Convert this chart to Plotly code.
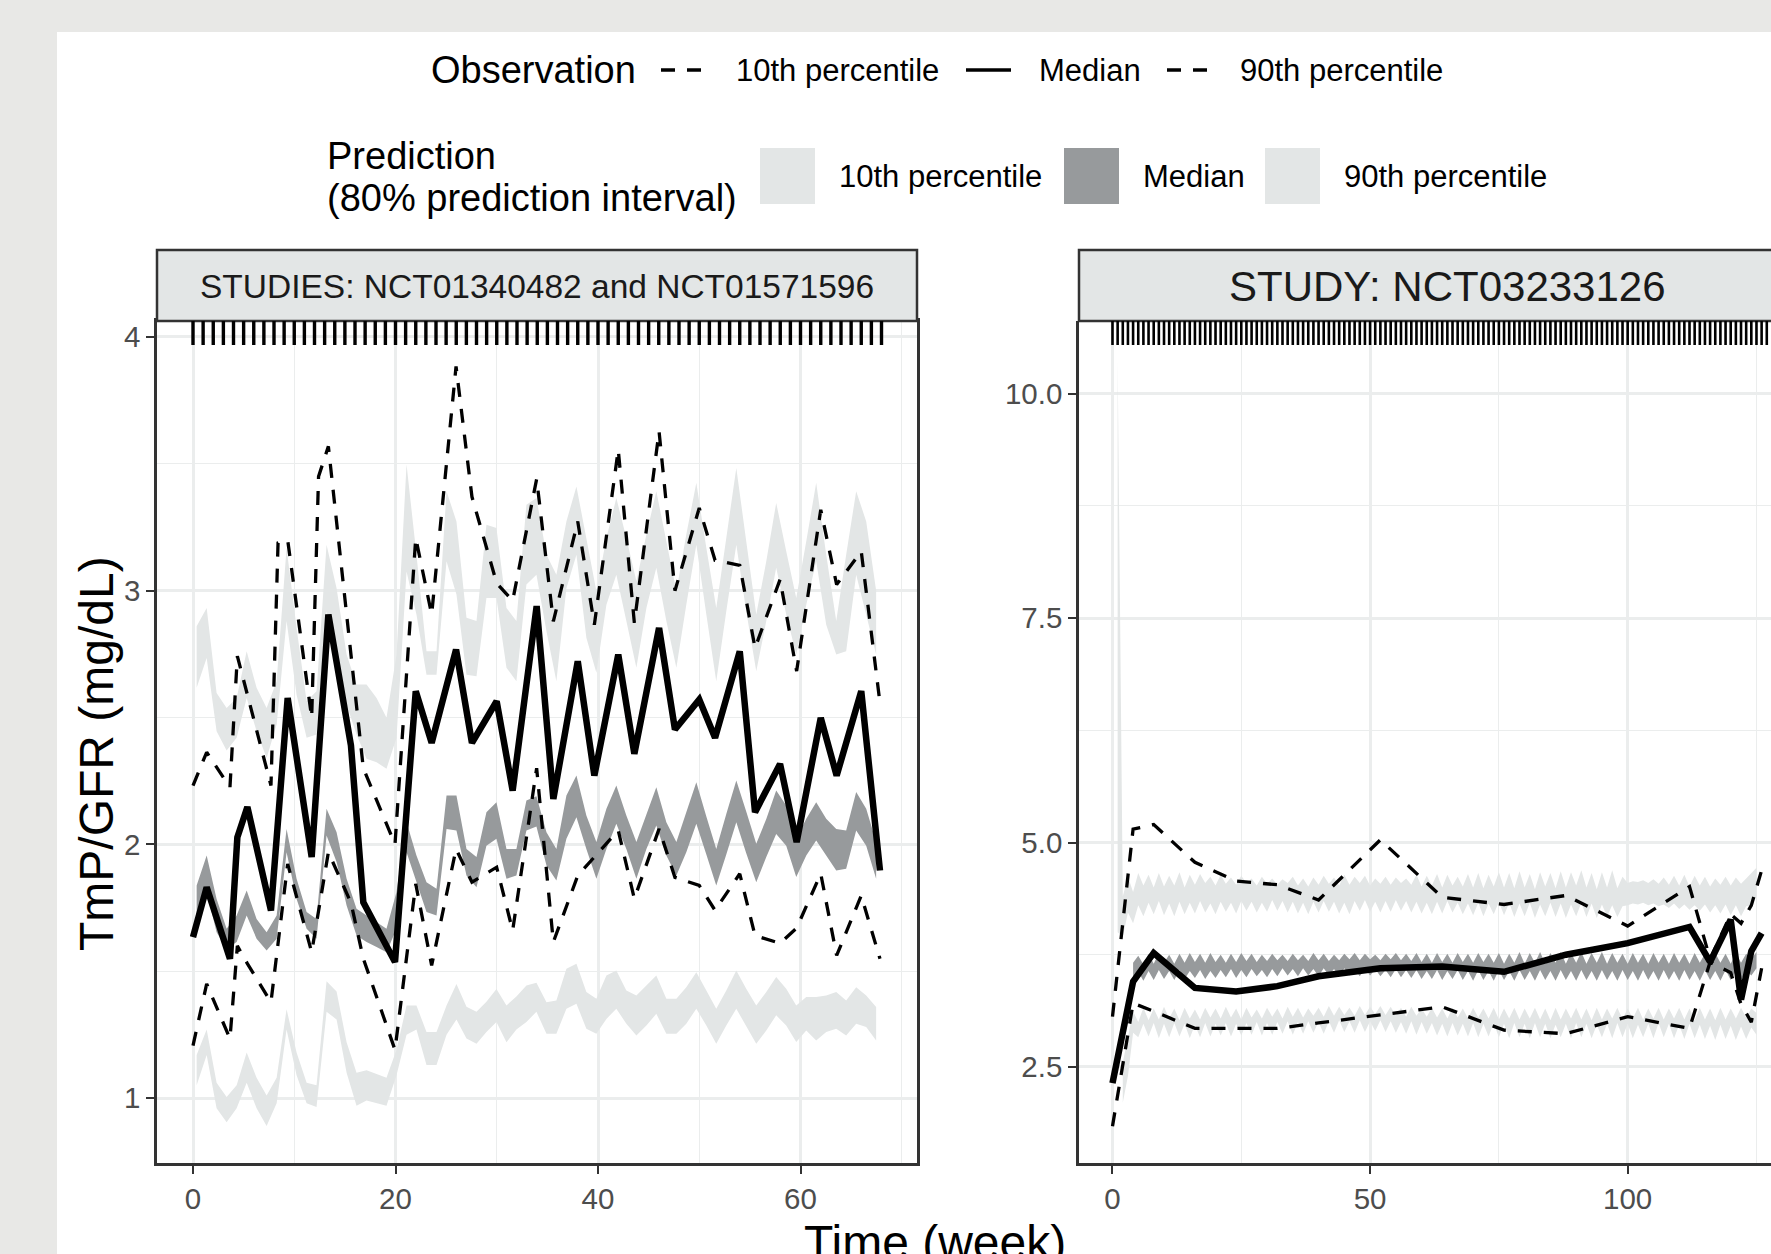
import plotly.graph_objects as go

W, H = 1771, 1254
FONT = "Liberation Sans, Arial, sans-serif"

# ---------------- LEFT PANEL DATA (STUDIES: NCT01340482 and NCT01571596) ----------------
rib_x_left = [0.36, 1.35, 2.33, 3.32, 4.31, 5.30, 6.28, 7.27, 8.26, 9.24, 10.23, 11.22, 12.20, 13.19,
              14.18, 15.17, 16.15, 17.14, 18.13, 19.11, 20.10, 21.09, 22.07, 23.06, 24.05, 25.04, 26.02,
              27.01, 28.00, 28.98, 29.97, 30.96, 31.94, 32.93, 33.92, 34.91, 35.89, 36.88, 37.87, 38.85,
              39.84, 40.83, 41.81, 42.80, 43.79, 44.78, 45.76, 46.75, 47.74, 48.72, 49.71, 50.70, 51.68,
              52.67, 53.66, 54.64, 55.63, 56.62, 57.60, 58.59, 59.58, 60.57, 61.55, 62.54, 63.53, 64.51,
              65.50, 66.49, 67.47]
p10_lo_left = [1.05, 1.17, 0.96, 0.905, 0.96, 1.06, 0.96, 0.89, 0.98, 1.27, 1.09, 0.98, 0.965, 1.34,
               1.31, 1.10, 0.97, 0.99, 0.98, 0.97, 1.09, 1.25, 1.27, 1.13, 1.13, 1.25, 1.31, 1.235, 1.214,
               1.26, 1.30, 1.22, 1.27, 1.30, 1.34, 1.253, 1.253, 1.352, 1.372, 1.273, 1.253, 1.312, 1.352,
               1.293, 1.247, 1.286, 1.332, 1.253, 1.253, 1.293, 1.352, 1.286, 1.214, 1.286, 1.352, 1.286,
               1.214, 1.266, 1.326, 1.286, 1.221, 1.266, 1.227, 1.260, 1.273, 1.247, 1.293, 1.280, 1.227]
p10_hi_left = [1.17, 1.27, 1.06, 1.004, 1.05, 1.18, 1.08, 1.01, 1.08, 1.35, 1.18, 1.06, 1.05, 1.46,
               1.42, 1.22, 1.10, 1.11, 1.095, 1.08, 1.19, 1.365, 1.365, 1.26, 1.26, 1.365, 1.45, 1.36, 1.34,
               1.38, 1.43, 1.365, 1.40, 1.444, 1.455, 1.378, 1.385, 1.510, 1.529, 1.418, 1.391, 1.483, 1.503,
               1.424, 1.404, 1.444, 1.483, 1.391, 1.391, 1.437, 1.496, 1.424, 1.352, 1.424, 1.503, 1.431,
               1.365, 1.418, 1.477, 1.431, 1.365, 1.398, 1.398, 1.404, 1.418, 1.385, 1.437, 1.404, 1.359]
p50_lo_left = [1.687, 1.812, 1.654, 1.588, 1.615, 1.72, 1.628, 1.582, 1.628, 1.969, 1.785, 1.667, 1.628,
               2.035, 1.93, 1.759, 1.641, 1.615, 1.595, 1.575, 1.667, 1.969, 1.851, 1.733, 1.72, 2.061,
               2.055, 1.877, 1.831, 1.995, 2.022, 1.864, 1.877, 2.055, 2.07, 1.917, 1.858, 2.022, 2.107,
               1.982, 1.864, 1.982, 2.081, 1.982, 1.864, 1.982, 2.074, 1.956, 1.877, 1.969, 2.081, 1.96,
               1.838, 1.96, 2.087, 1.965, 1.851, 1.95, 2.041, 1.995, 1.871, 1.956, 2.015, 1.956, 1.897,
               1.904, 2.055, 1.995, 1.864]
p50_hi_left = [1.838, 1.956, 1.785, 1.667, 1.72, 1.818, 1.706, 1.654, 1.72, 2.061, 1.864, 1.733, 1.706,
               2.14, 2.048, 1.864, 1.746, 1.72, 1.693, 1.667, 1.812, 2.087, 1.956, 1.851, 1.825, 2.193,
               2.193, 1.982, 1.95, 2.127, 2.166, 1.982, 1.982, 2.173, 2.19, 2.048, 1.982, 2.193, 2.271,
               2.114, 2.009, 2.14, 2.232, 2.114, 2.009, 2.114, 2.225, 2.087, 2.009, 2.127, 2.245, 2.11,
               1.982, 2.12, 2.252, 2.13, 2.002, 2.10, 2.212, 2.153, 2.022, 2.101, 2.166, 2.101, 2.061,
               2.055, 2.206, 2.14, 2.009]
p90_lo_left = [2.617, 2.735, 2.446, 2.37, 2.42, 2.577, 2.446, 2.34, 2.472, 2.88, 2.59, 2.42, 2.433, 2.919,
               2.748, 2.551, 2.433, 2.337, 2.324, 2.298, 2.42, 3.076, 2.906, 2.669, 2.669, 3.116, 2.985,
               2.669, 2.663, 2.971, 2.971, 2.696, 2.643, 3.024, 3.063, 2.84, 2.643, 3.01, 3.142, 2.814,
               2.676, 2.945, 3.063, 2.88, 2.696, 2.932, 3.09, 2.88, 2.696, 2.945, 3.181, 2.906, 2.643,
               2.919, 3.181, 2.919, 2.682, 2.88, 3.09, 2.906, 2.748, 2.945, 3.116, 2.866, 2.748, 2.761,
               3.063, 2.906, 2.748]
p90_hi_left = [2.86, 2.932, 2.597, 2.538, 2.577, 2.761, 2.617, 2.538, 2.643, 3.168, 2.853, 2.564, 2.604,
               3.181, 3.01, 2.748, 2.63, 2.63, 2.577, 2.499, 2.748, 3.497, 3.142, 2.761, 2.761, 3.392,
               3.273, 2.893, 2.88, 3.26, 3.247, 2.932, 2.88, 3.339, 3.365, 3.142, 3.063, 3.273, 3.411,
               3.208, 2.998, 3.208, 3.365, 3.208, 3.037, 3.221, 3.392, 3.195, 2.998, 3.221, 3.425, 3.168,
               2.932, 3.208, 3.484, 3.195, 2.906, 3.116, 3.346, 3.155, 2.971, 3.195, 3.425, 3.142, 2.88,
               3.142, 3.392, 3.273, 3.0]

obs_x_left = [0, 1.35, 3.65, 4.38, 5.37, 7.7, 9.35, 11.72, 13.37, 15.6, 16.82, 19.95, 22.0, 23.57, 25.98,
              27.55, 29.99, 31.57, 33.94, 35.59, 38.0, 39.64, 42.0, 43.59, 46.03, 47.6, 50.0, 51.56,
              54.0, 55.51, 57.98, 59.62, 62.0, 63.57, 66.0, 67.85]
obs_med_left = [1.634, 1.831, 1.549, 2.028, 2.147, 1.739, 2.577, 1.95, 2.906, 2.39, 1.772, 1.536, 2.604,
                2.40, 2.768, 2.40, 2.564, 2.212, 2.939, 2.179, 2.722, 2.271, 2.748, 2.357, 2.853, 2.453,
                2.571, 2.42, 2.761, 2.127, 2.317, 2.009, 2.499, 2.271, 2.604, 1.897]
obs_p10_left = [1.207, 1.45, 1.234, 1.6, 1.53, 1.378, 1.923, 1.575, 1.969, 1.77, 1.55, 1.19, 1.844,
                1.523, 1.982, 1.851, 1.91, 1.66, 2.30, 1.615, 1.877, 1.95, 2.055, 1.786, 2.061, 1.87,
                1.838, 1.74, 1.884, 1.64, 1.61, 1.67, 1.884, 1.562, 1.798, 1.549]
obs_x90_left = [0, 1.35, 3.65, 4.38, 5.37, 7.7, 8.4, 9.35, 11.72, 12.4, 13.37, 15.6, 16.82, 19.95, 22.0,
                23.57, 25.98, 27.55, 29.99, 31.57, 33.94, 35.59, 38.0, 39.64, 42.0, 43.59, 46.03, 47.6,
                50.0, 51.56, 54.0, 55.51, 57.98, 59.62, 62.0, 63.57, 66.0, 67.85]
obs_p90_left = [2.232, 2.363, 2.225, 2.742, 2.59, 2.232, 3.188, 3.20, 2.499, 3.45, 3.569, 2.75, 2.30,
                2.00, 3.208, 2.906, 3.884, 3.37, 3.03, 2.96, 3.44, 2.879, 3.273, 2.866, 3.556, 2.873,
                3.628, 3.00, 3.326, 3.12, 3.10, 2.774, 3.044, 2.683, 3.319, 3.024, 3.155, 2.557]
rug_left = list(range(0, 69))

# ---------------- RIGHT PANEL DATA (STUDY: NCT03233126) ----------------
wk_right = list(range(1, 126))
p90_hi_right = [10.38, 4.40, 4.62, 4.45, 4.66, 4.52, 4.64, 4.50, 4.66, 4.51,
                4.63, 4.52, 4.67, 4.50, 4.64, 4.53, 4.65, 4.55, 4.62, 4.52,
                4.64, 4.54, 4.61, 4.53, 4.63, 4.55, 4.60, 4.52, 4.62, 4.54,
                4.60, 4.53, 4.59, 4.55, 4.62, 4.52, 4.60, 4.51, 4.61, 4.53,
                4.63, 4.54, 4.61, 4.52, 4.64, 4.53, 4.62, 4.55, 4.63, 4.52,
                4.60, 4.54, 4.62, 4.53, 4.61, 4.55, 4.60, 4.53, 4.64, 4.51,
                4.63, 4.52, 4.65, 4.50, 4.64, 4.52, 4.62, 4.51, 4.65, 4.50,
                4.66, 4.49, 4.64, 4.51, 4.67, 4.50, 4.66, 4.49, 4.68, 4.50,
                4.65, 4.48, 4.67, 4.51, 4.66, 4.49, 4.68, 4.50, 4.67, 4.52,
                4.69, 4.50, 4.66, 4.48, 4.67, 4.50, 4.69, 4.49, 4.62, 4.55,
                4.57, 4.56, 4.58, 4.55, 4.59, 4.54, 4.61, 4.53, 4.63, 4.52,
                4.64, 4.51, 4.63, 4.52, 4.62, 4.51, 4.60, 4.53, 4.62, 4.52,
                4.61, 4.54, 4.60, 4.66, 4.72]
p90_lo_right = [4.00, 3.95, 4.22, 4.10, 4.30, 4.18, 4.33, 4.20, 4.35, 4.19,
                4.32, 4.18, 4.34, 4.20, 4.33, 4.21, 4.35, 4.22, 4.32, 4.20,
                4.34, 4.23, 4.33, 4.21, 4.35, 4.24, 4.34, 4.22, 4.33, 4.23,
                4.36, 4.24, 4.35, 4.22, 4.34, 4.21, 4.33, 4.20, 4.34, 4.22,
                4.35, 4.23, 4.34, 4.21, 4.33, 4.20, 4.35, 4.24, 4.36, 4.23,
                4.34, 4.22, 4.35, 4.23, 4.36, 4.24, 4.35, 4.22, 4.34, 4.21,
                4.33, 4.20, 4.34, 4.21, 4.35, 4.22, 4.33, 4.20, 4.32, 4.19,
                4.33, 4.18, 4.32, 4.20, 4.34, 4.19, 4.33, 4.17, 4.32, 4.18,
                4.33, 4.16, 4.31, 4.18, 4.33, 4.17, 4.32, 4.16, 4.31, 4.18,
                4.33, 4.17, 4.32, 4.16, 4.31, 4.18, 4.30, 4.17, 4.29, 4.30,
                4.32, 4.31, 4.33, 4.30, 4.32, 4.29, 4.31, 4.27, 4.32, 4.26,
                4.31, 4.25, 4.30, 4.24, 4.31, 4.22, 4.30, 4.21, 4.31, 4.19,
                4.30, 4.18, 4.29, 4.30, 4.40]
# lower band starts at week 2
p10_hi_right = [2.55, 2.85, 3.12, 3.00, 3.16, 3.02, 3.15, 3.03, 3.17, 3.04,
                3.15, 3.02, 3.16, 3.04, 3.14, 3.03, 3.16, 3.05, 3.15, 3.04,
                3.17, 3.05, 3.15, 3.03, 3.16, 3.05, 3.14, 3.04, 3.16, 3.06,
                3.15, 3.04, 3.17, 3.06, 3.16, 3.05, 3.15, 3.07, 3.16, 3.06,
                3.18, 3.07, 3.17, 3.08, 3.16, 3.07, 3.18, 3.08, 3.17, 3.09,
                3.18, 3.08, 3.17, 3.07, 3.16, 3.06, 3.17, 3.07, 3.15, 3.06,
                3.16, 3.05, 3.15, 3.04, 3.16, 3.05, 3.15, 3.04, 3.16, 3.05,
                3.15, 3.04, 3.16, 3.03, 3.15, 3.04, 3.16, 3.03, 3.15, 3.04,
                3.16, 3.03, 3.15, 3.02, 3.16, 3.03, 3.15, 3.04, 3.16, 3.03,
                3.15, 3.02, 3.16, 3.03, 3.15, 3.04, 3.16, 3.03, 3.15, 3.04,
                3.16, 3.03, 3.15, 3.04, 3.16, 3.03, 3.15, 3.04, 3.16, 3.03,
                3.15, 3.02, 3.16, 3.03, 3.15, 3.02, 3.16, 3.03, 3.15, 3.04,
                3.16, 3.05, 3.15, 3.10]
p10_lo_right = [2.10, 2.40, 2.88, 2.83, 2.98, 2.84, 2.99, 2.82, 2.98, 2.83,
                2.99, 2.84, 2.98, 2.82, 2.97, 2.83, 2.99, 2.84, 2.98, 2.85,
                2.99, 2.84, 2.98, 2.85, 2.99, 2.86, 3.00, 2.85, 2.99, 2.86,
                3.00, 2.87, 3.01, 2.86, 3.00, 2.87, 3.01, 2.88, 3.00, 2.87,
                3.01, 2.88, 3.02, 2.89, 3.01, 2.88, 3.02, 2.89, 3.01, 2.90,
                3.02, 2.89, 3.01, 2.88, 3.00, 2.87, 3.01, 2.86, 3.00, 2.87,
                2.99, 2.85, 2.98, 2.84, 2.99, 2.85, 2.98, 2.84, 2.99, 2.83,
                2.98, 2.84, 2.99, 2.83, 2.98, 2.82, 2.99, 2.83, 2.98, 2.82,
                2.99, 2.83, 2.98, 2.82, 2.97, 2.83, 2.98, 2.82, 2.99, 2.83,
                2.98, 2.82, 2.97, 2.83, 2.98, 2.82, 2.99, 2.83, 2.98, 2.82,
                2.97, 2.83, 2.98, 2.82, 2.99, 2.83, 2.98, 2.82, 2.97, 2.81,
                2.98, 2.82, 2.97, 2.81, 2.96, 2.80, 2.97, 2.81, 2.96, 2.80,
                2.95, 2.81, 2.94, 2.86]
# median band starts at week 4
p50_hi_right = [3.66, 3.74, 3.64, 3.76, 3.65, 3.77, 3.66, 3.75, 3.65, 3.76,
                3.66, 3.77, 3.67, 3.76, 3.66, 3.77, 3.67, 3.75, 3.66, 3.76,
                3.67, 3.77, 3.68, 3.76, 3.67, 3.75, 3.68, 3.76, 3.69, 3.75,
                3.68, 3.76, 3.69, 3.75, 3.68, 3.77, 3.69, 3.76, 3.68, 3.75,
                3.69, 3.76, 3.70, 3.77, 3.69, 3.76, 3.70, 3.75, 3.69, 3.76,
                3.70, 3.77, 3.69, 3.76, 3.68, 3.77, 3.67, 3.76, 3.66, 3.77,
                3.67, 3.76, 3.66, 3.77, 3.67, 3.76, 3.66, 3.77, 3.67, 3.76,
                3.66, 3.77, 3.65, 3.76, 3.66, 3.78, 3.65, 3.77, 3.66, 3.78,
                3.65, 3.77, 3.66, 3.78, 3.65, 3.77, 3.66, 3.78, 3.65, 3.77,
                3.66, 3.78, 3.65, 3.77, 3.66, 3.76, 3.65, 3.77, 3.66, 3.76,
                3.65, 3.77, 3.66, 3.76, 3.65, 3.77, 3.66, 3.76, 3.65, 3.77,
                3.66, 3.76, 3.65, 3.77, 3.66, 3.76, 3.65, 3.77, 3.66, 3.76,
                3.70, 3.78]
p50_lo_right = [3.48, 3.56, 3.46, 3.57, 3.47, 3.58, 3.48, 3.57, 3.47, 3.58,
                3.48, 3.57, 3.49, 3.58, 3.48, 3.57, 3.49, 3.58, 3.50, 3.59,
                3.49, 3.58, 3.50, 3.59, 3.51, 3.58, 3.50, 3.59, 3.51, 3.60,
                3.52, 3.59, 3.51, 3.60, 3.52, 3.59, 3.51, 3.60, 3.52, 3.59,
                3.51, 3.60, 3.52, 3.59, 3.51, 3.60, 3.52, 3.59, 3.51, 3.58,
                3.50, 3.59, 3.50, 3.58, 3.49, 3.58, 3.48, 3.57, 3.48, 3.58,
                3.47, 3.57, 3.48, 3.58, 3.47, 3.57, 3.46, 3.58, 3.47, 3.57,
                3.46, 3.58, 3.47, 3.57, 3.46, 3.58, 3.47, 3.57, 3.46, 3.58,
                3.47, 3.57, 3.46, 3.58, 3.47, 3.57, 3.46, 3.58, 3.47, 3.57,
                3.46, 3.58, 3.47, 3.57, 3.46, 3.58, 3.47, 3.57, 3.46, 3.58,
                3.47, 3.57, 3.46, 3.58, 3.47, 3.57, 3.46, 3.58, 3.47, 3.57,
                3.46, 3.58, 3.47, 3.57, 3.46, 3.58, 3.47, 3.57, 3.46, 3.58,
                3.52, 3.60]

obs_x_right = [0, 4, 8, 16, 24, 32, 40, 52, 64, 76, 88, 100, 112, 116, 120, 122, 124, 126]
obs_med_right = [2.32, 3.45, 3.77, 3.38, 3.34, 3.40, 3.51, 3.60, 3.62, 3.56, 3.75, 3.88, 4.06, 3.67,
                 4.14, 3.25, 3.79, 3.99]
obs_p90_right = [3.06, 5.15, 5.20, 4.78, 4.57, 4.53, 4.36, 5.03, 4.39, 4.31, 4.41, 4.07, 4.51, 3.70,
                 4.20, 4.10, 4.30, 4.69]
obs_p10_right = [1.84, 3.21, 3.12, 2.93, 2.93, 2.93, 2.99, 3.08, 3.17, 2.91, 2.87, 3.06, 2.93, 3.67,
                 3.55, 3.20, 3.00, 3.60]
rug_right = list(range(0, 128))

strip_titles = ["STUDIES: NCT01340482 and NCT01571596", "STUDY: NCT03233126"]
obs_labels = ["10th percentile", "Median", "90th percentile"]
pred_labels = ["10th percentile", "Median", "90th percentile"]

LIGHT = "#e3e6e6"
DARK = "#979a9c"
DASH = "14px,12px"

fig = go.Figure()


def ribbon(x, lo, hi, color, xa, ya):
    fig.add_trace(go.Scatter(x=list(x) + list(x)[::-1], y=list(hi) + list(lo)[::-1],
                             fill="toself", fillcolor=color, mode="lines",
                             line=dict(width=0, color=color), hoverinfo="skip",
                             showlegend=False, xaxis=xa, yaxis=ya))


def obs_line(x, y, dash, width, xa, ya):
    fig.add_trace(go.Scatter(x=x, y=y, mode="lines", line=dict(color="black", width=width, dash=dash),
                             showlegend=False, hoverinfo="skip", xaxis=xa, yaxis=ya))


# left panel
ribbon(rib_x_left, p10_lo_left, p10_hi_left, LIGHT, "x", "y")
ribbon(rib_x_left, p90_lo_left, p90_hi_left, LIGHT, "x", "y")
ribbon(rib_x_left, p50_lo_left, p50_hi_left, DARK, "x", "y")
obs_line(obs_x_left, obs_p10_left, DASH, 3.3, "x", "y")
obs_line(obs_x90_left, obs_p90_left, DASH, 3.3, "x", "y")
obs_line(obs_x_left, obs_med_left, "solid", 6.5, "x", "y")

# right panel
ribbon(wk_right, p90_lo_right, p90_hi_right, LIGHT, "x2", "y2")
ribbon(wk_right[1:], p10_lo_right, p10_hi_right, LIGHT, "x2", "y2")
ribbon(wk_right[3:], p50_lo_right, p50_hi_right, DARK, "x2", "y2")
obs_line(obs_x_right, obs_p10_right, DASH, 3.3, "x2", "y2")
obs_line(obs_x_right, obs_p90_right, DASH, 3.3, "x2", "y2")
obs_line(obs_x_right, obs_med_right, "solid", 6.5, "x2", "y2")

PANEL_TOP, PANEL_BOT = 321, 1163
STRIP_TOP = 250
LX0, LX1 = 157, 917
RX0 = 1079

def px(v):
    return v / W

def py(v):
    return 1 - v / H

axis_common = dict(showline=True, linecolor="#333333", linewidth=2.5, ticks="outside", ticklen=8,
                   tickwidth=2.2, tickcolor="#333333",
                   tickfont=dict(size=29.5, color="#4d4d4d", family=FONT),
                   showgrid=True, gridcolor="#ebeded", gridwidth=2.6, zeroline=False)

fig.update_layout(
    width=W, height=H,
    margin=dict(l=0, r=0, t=0, b=0, autoexpand=False),
    paper_bgcolor="#e8e8e6", plot_bgcolor="white",
    font=dict(family=FONT, color="black"),
    showlegend=False,
    xaxis=dict(domain=[px(LX0), px(LX1)], range=[-3.556, 71.506], anchor="y", tick0=0, dtick=20,
               mirror=True, minor=dict(dtick=10, tick0=0, showgrid=True, gridcolor="#ebeded", gridwidth=1.4),
               **axis_common),
    yaxis=dict(domain=[py(PANEL_BOT), py(PANEL_TOP)], range=[0.744, 4.063], anchor="x", tick0=0, dtick=1,
               mirror=True, minor=dict(dtick=0.5, tick0=0, showgrid=True, gridcolor="#ebeded", gridwidth=1.4),
               **axis_common),
    xaxis2=dict(domain=[px(RX0), 1.0], range=[-6.5, 127.82], anchor="y2", tick0=0, dtick=50,
                mirror=False, minor=dict(dtick=25, tick0=0, showgrid=True, gridcolor="#ebeded", gridwidth=1.4),
                **axis_common),
    yaxis2=dict(domain=[py(PANEL_BOT), py(PANEL_TOP)], range=[1.43, 10.81], anchor="x2", tick0=0, dtick=2.5,
                tickformat=".1f", mirror=False,
                minor=dict(dtick=1.25, tick0=0, showgrid=True, gridcolor="#ebeded", gridwidth=1.4),
                **axis_common),
)

shapes = []
# white plotting sheet over grey page
shapes.append(dict(type="rect", xref="paper", yref="paper", x0=px(57), x1=1.05, y0=-0.05, y1=py(32),
                   fillcolor="white", line=dict(width=0), layer="below"))
# strips
shapes.append(dict(type="rect", xref="paper", yref="paper", x0=px(LX0), x1=px(LX1), y0=py(PANEL_TOP),
                   y1=py(STRIP_TOP), fillcolor="#e3e6e6", line=dict(color="#333333", width=2.5)))
shapes.append(dict(type="rect", xref="paper", yref="paper", x0=px(RX0), x1=px(1816), y0=py(PANEL_TOP),
                   y1=py(STRIP_TOP), fillcolor="#e3e6e6", line=dict(color="#333333", width=2.5)))
# rugs
rug_frac = 24 / (PANEL_BOT - PANEL_TOP)
for t in rug_left:
    shapes.append(dict(type="line", xref="x", yref="y domain", x0=t, x1=t, y0=1 - rug_frac, y1=1,
                       line=dict(color="black", width=3.4)))
for t in rug_right:
    shapes.append(dict(type="line", xref="x2", yref="y2 domain", x0=t, x1=t, y0=1 - rug_frac, y1=1,
                       line=dict(color="black", width=2.6)))

# legend keys
ROW1 = 70
for (x0, x1), dsh in zip([(661, 706), (966, 1011), (1167, 1212)], [DASH, "solid", DASH]):
    shapes.append(dict(type="line", xref="paper", yref="paper", x0=px(x0), x1=px(x1), y0=py(ROW1), y1=py(ROW1),
                       line=dict(color="black", width=3.3, dash=dsh)))
for (x0, x1), col in zip([(760, 815), (1064, 1119), (1265, 1320)], [LIGHT, DARK, LIGHT]):
    shapes.append(dict(type="rect", xref="paper", yref="paper", x0=px(x0), x1=px(x1), y0=py(204), y1=py(148),
                       fillcolor=col, line=dict(width=0)))
fig.update_layout(shapes=shapes)

ann = []
ann.append(dict(text=strip_titles[0], x=px((LX0 + LX1) / 2), y=py(286), xref="paper", yref="paper",
                showarrow=False, xanchor="center", yanchor="middle",
                font=dict(size=33.5, family=FONT, color="#1a1a1a")))
ann.append(dict(text=strip_titles[1], x=px((RX0 + 1816) / 2), y=py(286), xref="paper", yref="paper",
                showarrow=False, xanchor="center", yanchor="middle",
                font=dict(size=42, family=FONT, color="#1a1a1a")))
ann.append(dict(text="TmP/GFR (mg/dL)", x=px(96), y=py(754), xref="paper", yref="paper", showarrow=False,
                textangle=-90, xanchor="center", yanchor="middle", font=dict(size=48)))
ann.append(dict(text="Time (week)", x=px(935), y=py(1242), xref="paper", yref="paper", showarrow=False,
                xanchor="center", yanchor="middle", font=dict(size=48)))
# legend texts
ann.append(dict(text="Observation", x=px(429), y=py(ROW1), xref="paper", yref="paper", showarrow=False,
                xanchor="left", yanchor="middle", font=dict(size=38)))
for xl, lab in zip([734, 1037, 1238], obs_labels):
    ann.append(dict(text=lab, x=px(xl), y=py(ROW1), xref="paper", yref="paper", showarrow=False,
                    xanchor="left", yanchor="middle", font=dict(size=31)))
ann.append(dict(text="Prediction", x=px(325), y=py(156), xref="paper", yref="paper", showarrow=False,
                xanchor="left", yanchor="middle", font=dict(size=38)))
ann.append(dict(text="(80% prediction interval)", x=px(325), y=py(198), xref="paper", yref="paper",
                showarrow=False, xanchor="left", yanchor="middle", font=dict(size=38)))
for xl, lab in zip([837, 1141, 1342], pred_labels):
    ann.append(dict(text=lab, x=px(xl), y=py(176), xref="paper", yref="paper", showarrow=False,
                    xanchor="left", yanchor="middle", font=dict(size=31)))
fig.update_layout(annotations=ann)

fig.write_html("out.html", config={"displayModeBar": False},
               post_script="document.body.style.margin='0px';document.body.style.overflow='hidden';")
